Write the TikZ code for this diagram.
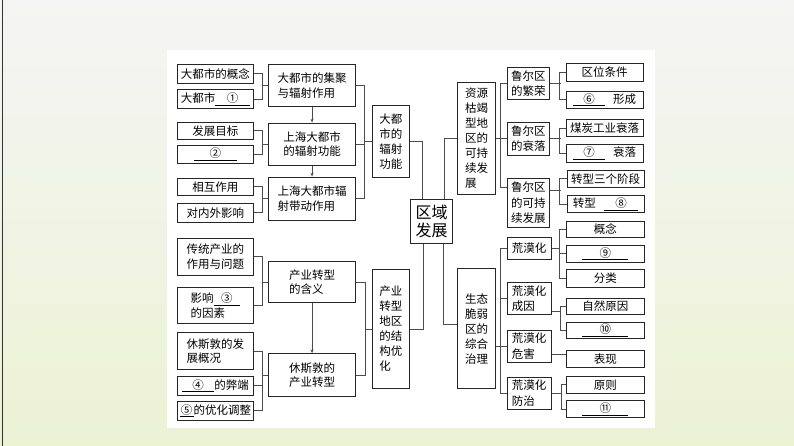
\documentclass[tikz,border=0pt]{standalone}
\usepackage{fontspec}
\usepackage{tikz}
\usetikzlibrary{arrows.meta}
\newfontfamily\zhfont{Noto Sans CJK SC}
\newcommand{\blank}[2]{\underline{\makebox[#1]{#2}}}

\tikzset{
    box/.style={draw=black!85, line width=0.8pt, fill=white, anchor=north west,
        inner sep=0.5pt, align=center,
        font=\zhfont\fontsize{11.5}{14.5}\selectfont},
    leaf/.style={box, minimum width=76pt},
    sub/.style={box, minimum width=86.7pt, align=left},
    col/.style={box, minimum width=37.6pt, align=left,
        font=\zhfont\fontsize{11.5}{15}\selectfont},
    ruhr/.style={box, align=left, font=\zhfont\fontsize{11.5}{15.5}\selectfont},
    item/.style={box, minimum width=77pt},
    link/.style={draw=black!70, line width=0.8pt},
    arr/.style={link, -{Stealth[length=4pt,width=3pt]}}
}

\begin{document}
\begin{tikzpicture}[x=1pt,y=-1pt]
\useasboundingbox (0,0) rectangle (794,446);
\shade[top color=black!4, bottom color={rgb,255:red,236;green,242;blue,212}] (0,0) rectangle (794,446);
\fill[white] (167,50) rectangle (655,428);
\draw[black!80, line width=1pt] (2,0) -- (2,446);

% left leaves
\node[leaf, minimum height=18.7pt] (A1) at (177,64) {大都市的概念};
\node[leaf, minimum height=19pt] (A2) at (177,89.3) {大都市\blank{3em}{①}};
\node[leaf, minimum height=17.6pt] (B1) at (177,121.7) {发展目标};
\node[leaf, minimum height=18.3pt] (B2) at (177,145) {\blank{3.7em}{②}};
\node[leaf, minimum height=17.3pt] (C1) at (177,177.7) {相互作用};
\node[leaf, minimum height=18.4pt] (C2) at (177,203.3) {对内外影响};
\node[leaf, minimum height=37.3pt] (D1) at (177,237.7) {传统产业的\\作用与问题};
\node[leaf, minimum height=36.6pt, align=left] (D2) at (177,286.7) {影响\blank{2.3em}{③}\\的因素};
\node[leaf, minimum height=36.7pt, align=left] (E1) at (177,332.3) {休斯敦的发\\展概况};
\node[leaf, minimum height=19.3pt] (E2) at (177,375.7) {\blank{2.8em}{④}的弊端};
\node[leaf, minimum height=19.3pt] (E3) at (177,400.7) {\blank{1.2em}{⑤}的优化调整};

% middle column
\node[sub, minimum height=42pt] (M1) at (268.3,64) {大都市的集聚\\与辐射作用};
\node[sub, minimum height=42.3pt] (M2) at (268.3,122.7) {上海大都市\\的辐射功能};
\node[sub, minimum height=43.3pt] (M3) at (268.3,176.7) {上海大都市辐\\射带动作用};
\node[sub, minimum height=41.3pt] (M4) at (268.3,261) {产业转型\\的含义};
\node[sub, minimum height=42.4pt] (M5) at (268.3,353.3) {休斯敦的\\产业转型};

\node[col, minimum height=71.7pt] (K1) at (371.7,105) {大都\\市的\\辐射\\功能};
\node[col, minimum height=119.3pt] (K2) at (371.7,269) {产业\\转型\\地区\\的结\\构优\\化};

% centre
\node[box, minimum width=42.3pt, minimum height=44pt,
      font=\zhfont\fontsize{16}{18}\selectfont] (R) at (410,199.3) {区域\\发展};

% right side
\node[col, minimum width=37.7pt, minimum height=112.3pt] (S1) at (457.3,81.7) {资源\\枯竭\\型地\\区的\\可持\\续发\\展};
\node[col, minimum width=37.7pt, minimum height=120pt] (S2) at (457.3,268.3) {生态\\脆弱\\区的\\综合\\治理};

\node[ruhr, minimum width=42.5pt, minimum height=32pt] (T1) at (506.7,67.3) {鲁尔区\\的繁荣};
\node[ruhr, minimum width=42.5pt, minimum height=33.3pt] (T2) at (506.7,121.7) {鲁尔区\\的衰落};
\node[ruhr, minimum width=42.5pt, minimum height=48.4pt] (T3) at (506.7,178.3) {鲁尔区\\的可持\\续发展};
\node[ruhr, minimum width=44pt, minimum height=22.6pt] (T4) at (506.7,236.7) {荒漠化};
\node[ruhr, minimum width=44pt, minimum height=32pt] (T5) at (506.7,282.3) {荒漠化\\成因};
\node[ruhr, minimum width=44pt, minimum height=31.7pt] (T6) at (506.7,330) {荒漠化\\危害};
\node[ruhr, minimum width=44pt, minimum height=32.3pt] (T7) at (506.7,376.7) {荒漠化\\防治};

\node[item, minimum height=17.4pt] (U1) at (565.7,63.3) {区位条件};
\node[item, minimum height=17.6pt] (U2) at (565.7,90.7) {\blank{2.8em}{⑥}\hspace{0.7em}形成};
\node[item, minimum height=16.7pt] (U3) at (565.7,119.3) {煤炭工业衰落};
\node[item, minimum height=17.4pt] (U4) at (565.7,144.3) {\blank{2.8em}{⑦}\hspace{0.7em}衰落};
\node[item, minimum height=16.7pt] (U5) at (566.7,170) {转型三个阶段};
\node[item, minimum height=17.3pt] (U6) at (566.7,195) {转型\hspace{0.7em}\blank{3em}{⑧}};
\node[item, minimum width=78pt, minimum height=16pt] (U7) at (566,220.7) {概念};
\node[item, minimum width=78pt, minimum height=16.7pt] (U8) at (566,245) {\blank{4em}{⑨}};
\node[item, minimum width=78pt, minimum height=17.4pt] (U9) at (566,269.3) {分类};
\node[item, minimum width=78pt, minimum height=16.6pt] (U10) at (566,297.7) {自然原因};
\node[item, minimum width=78pt, minimum height=16.6pt] (U11) at (566,321.7) {\blank{4em}{⑩}};
\node[item, minimum width=78pt, minimum height=16.7pt] (U12) at (566,350) {表现};
\node[item, minimum width=78pt, minimum height=16.7pt] (U13) at (566,376) {原则};
\node[item, minimum width=78pt, minimum height=17.3pt] (U14) at (566,400) {\blank{4em}{⑪}};

% left brackets
\draw[link] (A1.east) -- ++(8.7,0) |- (A2.east);
\draw[link] (M1.west) -- ++(-6.3,0);
\draw[link] (B1.east) -- ++(8.7,0) |- (B2.east);
\draw[link] (M2.west) -- ++(-6.3,0);
\draw[link] (C1.east) -- ++(8.7,0) |- (C2.east);
\draw[link] (M3.west) -- ++(-6.3,0);
\draw[link] (D1.east) -- ++(8.7,0) |- (D2.east);
\draw[link] (M4.west) -- ++(-6.3,0);
\draw[link] (E1.east) -- ++(8.7,0) |- (E3.east);
\draw[link] (E2.east) -- ++(8.7,0);
\draw[link] (M5.west) -- ++(-6.3,0);

\draw[arr] (M1.south) -- (M2.north);
\draw[arr] (M2.south) -- (M3.north);
\draw[arr] (M4.south) -- (M5.north);

\draw[link] (M1.east) -- ++(9,0) |- (M3.east);
\draw[link] (M2.east) -- ++(9,0);
\draw[link] (K1.west) -- ++(-7.7,0);
\draw[link] (M4.east) -- ++(10,0) |- (M5.east);
\draw[link] (K2.west) -- ++(-6.7,0);

% centre links
\draw[link] (K1.east) -| ([xshift=-9.3pt]R.north);
\draw[link] ([xshift=13pt]R.north) |- (S1.west);
\draw[link] (K2.east) -| ([xshift=-8.3pt]R.south);
\draw[link] ([xshift=12pt]R.south) |- ([yshift=4pt]S2.west);

% right brackets
\draw[link] (S1.east) -- ++(5.7,0);
\draw[link] (T1.west) -- ++(-6,0) |- ([yshift=-8.7pt]T3.north west);
\draw[link] (T2.west) -- ++(-6,0);
\draw[link] ([yshift=-18pt]S2.east) -- ++(5.7,0);
\draw[link] (T4.west) -- ++(-6,0) |- (T7.west);
\draw[link] (T5.west) -- ++(-6,0);
\draw[link] (T6.west) -- ++(-6,0);

\draw[link] (U1.west) -- ++(-6,0) |- (U2.west);
\draw[link] (T1.east) -- ++(11,0);
\draw[link] (U3.west) -- ++(-6,0) |- (U4.west);
\draw[link] (T2.east) -- ++(11,0);
\draw[link] (U5.west) -- ++(-7,0) |- (U6.west);
\draw[link] ([yshift=12pt]T3.east) -- ++(11,0);
\draw[link] (U7.west) -- ++(-6.7,0) |- (U9.west);
\draw[link] (U8.west) -- ++(-6.7,0);
\draw[link] (T4.east) -- ++(8.6,0);
\draw[link] (U10.west) -- ++(-5.3,0) |- (U11.west);
\draw[link] ([yshift=-13pt]T5.east) -- ++(9.3,0);
\draw[link] ([yshift=-8pt]T6.east) -- ([yshift=-8pt]T6.east -| U12.west);
\draw[link] (U13.west) -- ++(-5,0) |- (U14.west);
\draw[link] (T7.east) -- ++(9.3,0);

\end{tikzpicture}
\end{document}
